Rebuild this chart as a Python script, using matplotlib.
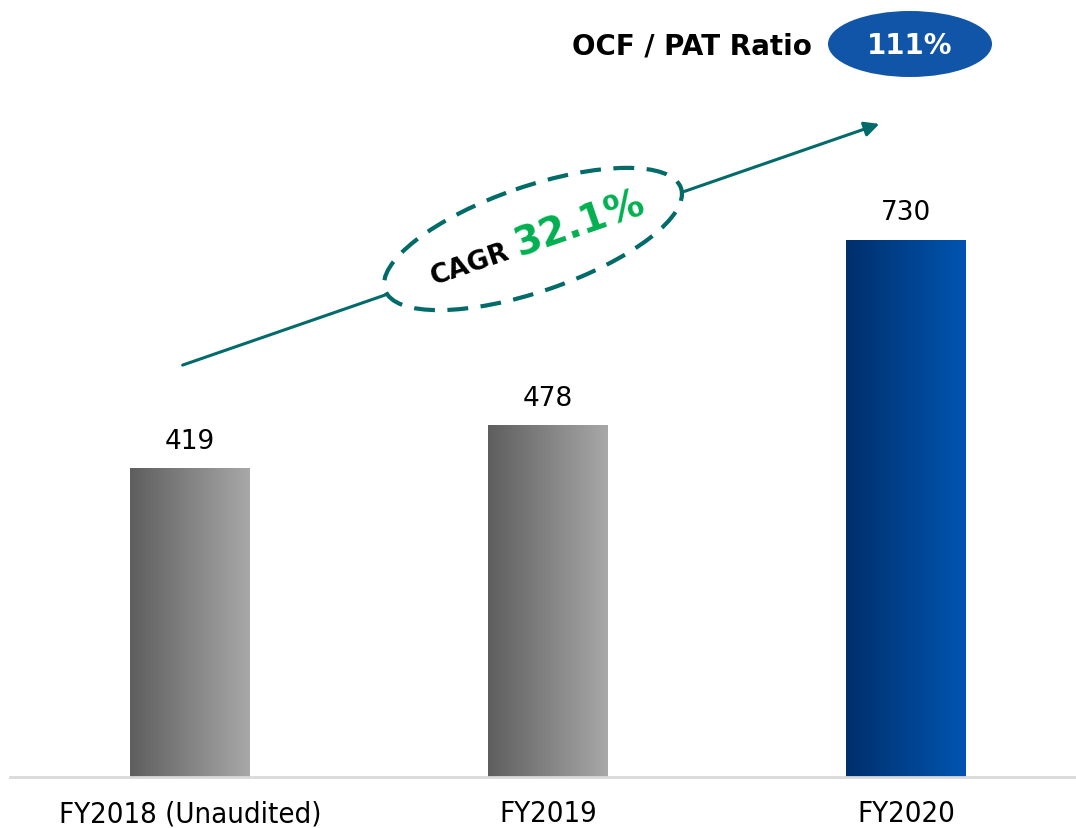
#import libraries
import numpy as np
import matplotlib
matplotlib.use('Agg')
import matplotlib.pyplot as plt
from matplotlib.colors import LinearSegmentedColormap
from matplotlib.patches import Ellipse

#data
years = ['FY2018 (Unaudited)', 'FY2019', 'FY2020']
values = [419, 478, 730]
cagr_text = '32.1%'
ratio_text = '111%'

gray_cmap = LinearSegmentedColormap.from_list('g', ['#5e5e5e', '#a8a8a8'])
blue_cmap = LinearSegmentedColormap.from_list('b', ['#002f6c', '#0055b0'])
bar_cmaps = [gray_cmap, gray_cmap, blue_cmap]

plt.rcParams['font.family'] = ['DejaVu Sans']

W, H = 1076, 829
fig = plt.figure(figsize=(W / 100, H / 100), dpi=100)
ax = fig.add_axes([10 / W, (H - 778) / H, 1 - 10 / W, 778 / H])

bw = 0.335
grad = np.linspace(0, 1, 256).reshape(1, -1)
for i, v in enumerate(values):
    ax.imshow(grad, cmap=bar_cmaps[i], aspect='auto',
              extent=[i - bw / 2, i + bw / 2, 0, v], zorder=2)
    ax.text(i, v + 20, str(v), ha='center', va='bottom', fontsize=19,
            color='black')

ax.set_xlim(-0.503, 2.475)
ax.set_ylim(0, 778 / 0.7356)
ax.set_xticks(range(len(years)))
ax.set_xticklabels(years, fontsize=21, fontstretch='condensed')
ax.tick_params(axis='x', length=0, pad=16)
ax.set_yticks([])
for s in ['top', 'right', 'left']:
    ax.spines[s].set_visible(False)
ax.spines['bottom'].set_color('#d9d9d9')
ax.spines['bottom'].set_linewidth(2)

#overlay for annotations in pixel coords
ov = fig.add_axes([0, 0, 1, 1])
ov.set_xlim(0, W)
ov.set_ylim(H, 0)
ov.axis('off')
ov.patch.set_alpha(0)

teal = '#006b68'
ov.annotate('', xy=(882, 124), xytext=(180, 367),
            arrowprops=dict(arrowstyle='-|>', color=teal, lw=2.2,
                            mutation_scale=22))
ell = Ellipse((533, 240), 313, 105, angle=-19, facecolor='white',
              edgecolor=teal, lw=3, linestyle=(0, (5, 3)), zorder=3)
ov.add_patch(ell)
ov.text(470, 265, 'CAGR', rotation=19, ha='center', va='center',
        fontsize=19, fontweight='bold', color='black', zorder=4,
        rotation_mode='anchor')
ov.text(580, 224, cagr_text, rotation=19, ha='center', va='center',
        fontsize=28, fontweight='bold', color='#00b050', zorder=4,
        rotation_mode='anchor')

ov.text(812, 46, 'OCF / PAT Ratio', ha='right', va='center', fontsize=20,
        fontweight='bold', color='black')
ov.add_patch(Ellipse((910, 45), 164, 66, facecolor='#1155a8', edgecolor='none'))
ov.text(910, 46, ratio_text, ha='center', va='center', fontsize=20,
        fontweight='bold', color='white')

plt.savefig('out.png', dpi=100)
